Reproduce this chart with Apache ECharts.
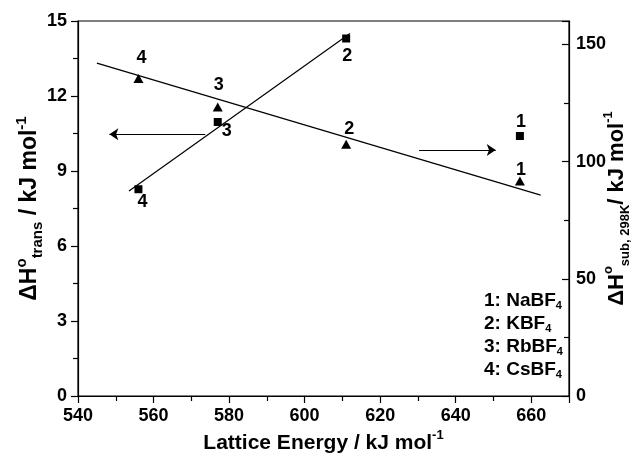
<!DOCTYPE html>
<html>
<head>
<meta charset="utf-8">
<script src="https://cdn.jsdelivr.net/npm/echarts@6/dist/echarts.min.js"></script>
<style>
  html, body { margin: 0; padding: 0; background: #fff; }
  #chart { width: 636px; height: 458px; }
</style>
</head>
<body>
<div id="chart"></div>
<script>
// salts: 1 NaBF4, 2 KBF4, 3 RbBF4, 4 CsBF4
var saltIds = ['1', '2', '3', '4'];
var latticeEnergy = [657, 611, 577, 556];
var dhTrans = [10.4, 14.3, 10.96, 8.27];      // squares, left axis
var dhSub = [91.7, 107.4, 123.3, 135.5];      // triangles, right axis

// fitted lines
var transFitX = [553.5, 612];
var transFitY = [8.2, 14.5];
var subFitX = [545, 662.5];
var subFitY = [142, 85.7];

// arrows pointing at the axes
var leftArrow = { from: [573.7, 10.47], to: [548.3, 10.47] };
var rightArrow = { from: [630.3, 9.84], to: [650.6, 9.84] };

var legendLines = ['1: NaBF', '2: KBF', '3: RbBF', '4: CsBF'];

// label offsets (style, not data)
var sqLabelOffset = [[1, -14], [1, 18], [9, 9], [4, 13]];
var triLabelOffset = [[1, -11], [3, -15], [1, -22], [3, -20]];

var FONT = 'Liberation Sans, Arial, Helvetica, sans-serif';

function pts(xs, ys) {
    return xs.map(function (x, i) { return [x, ys[i]]; });
}

function labelled(ys, offsets) {
    return latticeEnergy.map(function (x, i) {
        return {
            value: [x, ys[i]],
            label: { show: true, formatter: saltIds[i], position: 'inside', offset: offsets[i] }
        };
    });
}

function richName(big, small) {
    return {
        b: { fontSize: big, fontWeight: 'bold', fontFamily: FONT, color: '#000', lineHeight: big + 8 },
        sup: { fontSize: small, fontWeight: 'bold', fontFamily: FONT, color: '#000', verticalAlign: 'top', lineHeight: small },
        sub: { fontSize: small, fontWeight: 'bold', fontFamily: FONT, color: '#000', verticalAlign: 'bottom', lineHeight: small }
    };
}

var axisLabelStyle = { color: '#000', fontSize: 18, fontWeight: 'bold', fontFamily: FONT };
var lineBlack = { color: '#000', width: 1.2 };
var pointLabel = { color: '#000', fontSize: 18, fontWeight: 'bold', fontFamily: FONT, textBorderWidth: 0 };

var chart = echarts.init(document.getElementById('chart'), null, { renderer: 'canvas' });

var option = {
    animation: false,
    backgroundColor: '#fff',
    grid: {
        left: 78, right: 67, top: 21, bottom: 62, outerBoundsMode: 'none', containLabel: false,
        show: true, borderColor: '#000', borderWidth: 1.2, backgroundColor: 'transparent'
    },
    xAxis: {
        type: 'value', min: 540, max: 670, interval: 20,
        name: '{b|Lattice Energy / kJ mol}{sup|-1}',
        nameLocation: 'middle', nameGap: 33, nameMoveOverlap: false,
        nameTextStyle: { rich: richName(21, 13) },
        axisLine: { lineStyle: lineBlack },
        axisTick: { length: 7, lineStyle: lineBlack },
        minorTick: { show: true, splitNumber: 2, length: 5, lineStyle: lineBlack },
        axisLabel: Object.assign({ margin: 11, showMaxLabel: false }, axisLabelStyle),
        splitLine: { show: false }
    },
    yAxis: [
        {
            type: 'value', min: 0, max: 15, interval: 3, position: 'left',
            name: '{b|ΔH}{sup|o}{sub|trans}{b| / kJ mol}{sup|-1}',
            nameLocation: 'middle', nameGap: 33, nameRotate: 90, nameMoveOverlap: false,
            nameTextStyle: { rich: richName(23, 15) },
            axisLine: { show: true, lineStyle: lineBlack },
            axisTick: { length: 7, lineStyle: lineBlack },
            minorTick: { show: true, splitNumber: 2, length: 5, lineStyle: lineBlack },
            axisLabel: Object.assign({ margin: 11 }, axisLabelStyle),
            splitLine: { show: false }
        },
        {
            type: 'value', min: 0, max: 160, interval: 50, position: 'right',
            name: '{b|ΔH}{sup|o}{sub|sub, 298K}{b|/ kJ mol}{sup|-1}',
            nameLocation: 'middle', nameGap: 33, nameRotate: 90, nameMoveOverlap: false,
            nameTextStyle: { rich: richName(22, 13) },
            axisLine: { show: true, lineStyle: lineBlack },
            axisTick: { inside: true, length: 7, lineStyle: lineBlack },
            minorTick: { show: true, splitNumber: 2, length: 5, lineStyle: lineBlack },
            axisLabel: Object.assign({ margin: 7, showMaxLabel: false }, axisLabelStyle),
            splitLine: { show: false }
        }
    ],
    series: [
        {
            name: 'trans fit', type: 'line', yAxisIndex: 0,
            data: pts(transFitX, transFitY),
            symbol: 'none', lineStyle: lineBlack, silent: true,
            markLine: {
                silent: true,
                symbol: ['none', 'arrow'], symbolSize: 9,
                label: { show: false },
                lineStyle: { color: '#000', width: 1.2, type: 'solid' },
                data: [
                    [{ coord: leftArrow.from }, { coord: leftArrow.to }],
                    [{ coord: rightArrow.from }, { coord: rightArrow.to }]
                ]
            }
        },
        {
            name: 'sub fit', type: 'line', yAxisIndex: 1,
            data: pts(subFitX, subFitY),
            symbol: 'none', lineStyle: lineBlack, silent: true
        },
        {
            name: 'ΔH trans', type: 'scatter', yAxisIndex: 0,
            data: labelled(dhTrans, sqLabelOffset),
            symbol: 'rect', symbolSize: 8,
            itemStyle: { color: '#000', opacity: 1 },
            label: pointLabel
        },
        {
            name: 'ΔH sub', type: 'scatter', yAxisIndex: 1,
            data: labelled(dhSub, triLabelOffset),
            symbol: 'triangle', symbolSize: [10, 9],
            itemStyle: { color: '#000', opacity: 1 },
            label: pointLabel
        }
    ],
    graphic: legendLines.map(function (t, i) {
        return {
            type: 'text', left: 484, top: 291 + i * 23,
            style: {
                text: '{a|' + t + '}{s|4}',
                rich: {
                    a: { fontSize: 19, fontWeight: 'bold', fontFamily: FONT, fill: '#000', lineHeight: 22 },
                    s: { fontSize: 11, fontWeight: 'bold', fontFamily: FONT, fill: '#000', verticalAlign: 'bottom', lineHeight: 11 }
                }
            }
        };
    })
};

chart.setOption(option);
</script>
</body>
</html>
